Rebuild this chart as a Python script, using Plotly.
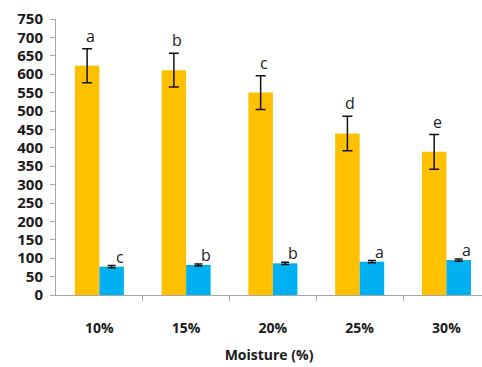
import plotly.graph_objects as go

categories = ["10%", "15%", "20%", "25%", "30%"]
orange_vals = [623, 611, 550, 439, 389]
orange_err = [46, 46, 46, 47, 47]
blue_vals = [77, 81.5, 86, 90.5, 95]
blue_err = [3, 3, 3, 3, 3]
orange_letters = ["a", "b", "c", "d", "e"]
blue_letters = ["c", "b", "b", "a", "a"]
y_ticks = list(range(0, 751, 50))

xpos = list(range(len(categories)))

fig = go.Figure()
fig.add_trace(go.Bar(
    x=xpos, y=orange_vals, marker=dict(color="#FFC000", line=dict(width=0)),
    error_y=dict(type="data", array=orange_err, color="#111111", thickness=1.5, width=5),
    showlegend=False))
fig.add_trace(go.Bar(
    x=xpos, y=blue_vals, marker=dict(color="#00B0F0", line=dict(width=0)),
    error_y=dict(type="data", array=blue_err, color="#111111", thickness=1.5, width=4),
    showlegend=False))

annotations = []
bw = (1 - 0.435) / 2
for i in xpos:
    annotations.append(dict(x=i - bw / 2, y=orange_vals[i] + orange_err[i], xref="x", yref="y",
                            text=orange_letters[i], showarrow=False, xshift=3, yshift=13,
                            yanchor="middle", font=dict(family="Open Sans", size=16, color="#222")))
    annotations.append(dict(x=i + bw / 2, y=blue_vals[i] + blue_err[i], xref="x", yref="y",
                            text=blue_letters[i], showarrow=False, xshift=8, yshift=9,
                            yanchor="middle", font=dict(family="Open Sans", size=16, color="#222")))

fig.update_layout(
    width=482, height=367,
    margin=dict(l=56, r=0, t=19, b=72),
    paper_bgcolor="white", plot_bgcolor="white",
    barmode="group", bargap=0.435, bargroupgap=0,
    annotations=annotations,
    font=dict(family="Open Sans", color="#1a1a1a"),
    xaxis=dict(
        range=[-0.5, 4.41], tickmode="array", tickvals=xpos, ticktext=categories,
        ticks="", showline=True, linecolor="#A6A6A6", linewidth=1, showgrid=False, zeroline=False,
        tickfont=dict(family="Open Sans", size=14, color="#1a1a1a", weight="bold"),
        ticklabelstandoff=20,
        minor=dict(tickmode="array", tickvals=[0.5, 1.5, 2.5, 3.5], ticks="outside",
                   ticklen=5, tickcolor="#A6A6A6", showgrid=False),
        title=dict(text="Moisture (%)", standoff=14,
                   font=dict(family="Open Sans", size=14, color="#1a1a1a", weight="bold")),
    ),
    yaxis=dict(
        range=[0, 750], tickmode="array", tickvals=y_ticks,
        ticks="outside", ticklen=5, tickcolor="#A6A6A6",
        showline=True, linecolor="#A6A6A6", linewidth=1, showgrid=False, zeroline=False,
        tickfont=dict(family="Open Sans", size=15, color="#1a1a1a", weight="bold"),
        ticklabelstandoff=4,
    ),
)

fig.write_html("out.html", config={"displayModeBar": False},
               post_script="document.body.style.margin='0';document.body.style.padding='0';")
